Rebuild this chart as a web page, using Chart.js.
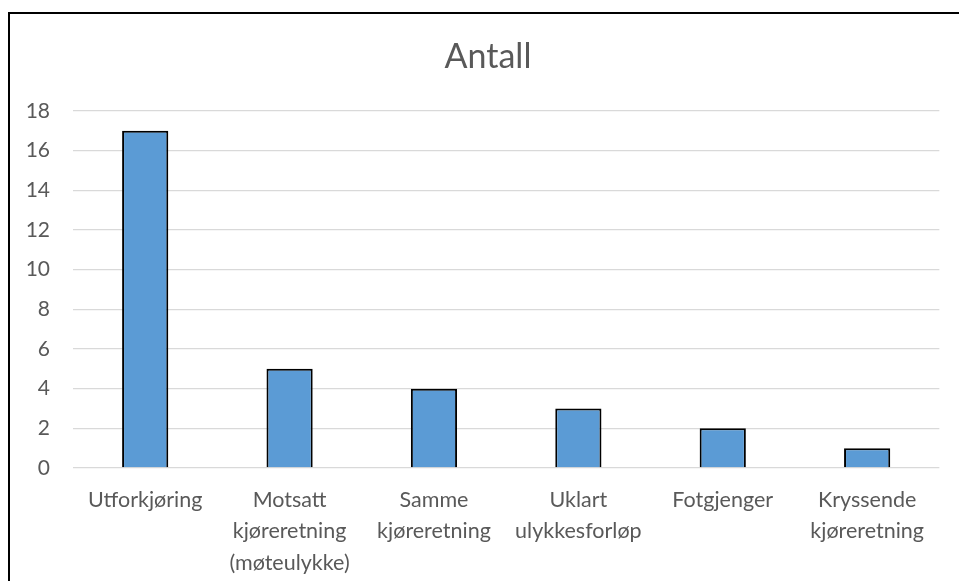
<!DOCTYPE html>
<html>
<head>
<meta charset="utf-8">
<script src="https://cdn.jsdelivr.net/npm/chart.js@4/dist/chart.umd.min.js"></script>
<style>
  html, body { margin: 0; padding: 0; background: #fff; overflow: hidden; width: 959px; height: 581px; }
  #frame { position: absolute; left: 8px; top: 12px; width: 1000px; height: 700px; border: 2px solid #000; box-sizing: content-box; }
  #wrap { position: absolute; left: 10px; top: 14px; width: 930px; height: 567px; }
</style>
</head>
<body>
<div id="frame"></div>
<div id="wrap"><canvas id="c" width="930" height="567"></canvas></div>
<script>
const categories = [
  "Utforkjøring",
  ["Motsatt", "kjøreretning", "(møteulykke)"],
  ["Samme", "kjøreretning"],
  ["Uklart", "ulykkesforløp"],
  "Fotgjenger",
  ["Kryssende", "kjøreretning"]
];
const antall = [17, 5, 4, 3, 2, 1];
const chartTitle = "Antall";

const textColor = "#595959";
const fontFamily = "Lato, 'Open Sans', sans-serif";

// Title drawn centred on the whole (framed) chart area, which extends past the window
const frameTitle = {
  id: "frameTitle",
  afterDraw(chart, args, opts) {
    const ctx = chart.ctx;
    ctx.save();
    ctx.fillStyle = opts.color;
    ctx.font = `normal ${opts.size}px ${opts.family}`;
    ctx.textAlign = "center";
    ctx.textBaseline = "middle";
    ctx.fillText(opts.text, opts.x, opts.y);
    ctx.restore();
  }
};

new Chart(document.getElementById("c"), {
  type: "bar",
  data: {
    labels: categories,
    datasets: [{
      label: chartTitle,
      data: antall,
      backgroundColor: "#5B9BD5",
      borderColor: "#000000",
      borderWidth: 2,
      categoryPercentage: 1.0,
      barPercentage: 0.32
    }]
  },
  plugins: [frameTitle],
  options: {
    responsive: false,
    animation: false,
    devicePixelRatio: 1,
    layout: { padding: { left: 0, right: 0, top: 97, bottom: 0 } },
    plugins: {
      legend: { display: false },
      tooltip: { enabled: false },
      title: { display: false },
      frameTitle: { text: chartTitle, x: 478, y: 43, size: 34, family: fontFamily, color: textColor }
    },
    scales: {
      x: {
        grid: { display: false, drawTicks: false },
        border: { display: false },
        ticks: {
          color: textColor,
          font: { family: fontFamily, size: 21.5, lineHeight: 1.47 },
          padding: 16,
          maxRotation: 0,
          autoSkip: false
        },
        afterFit: (s) => { s.height = 567 + 14 - 468; }
      },
      y: {
        min: 0,
        max: 18,
        grid: { color: "#d9d9d9", lineWidth: 1.3, drawTicks: false },
        border: { display: false },
        ticks: {
          stepSize: 2,
          color: textColor,
          font: { family: fontFamily, size: 21 },
          padding: 23
        },
        afterFit: (s) => { s.width = 63; }
      }
    }
  }
});
</script>
</body>
</html>
